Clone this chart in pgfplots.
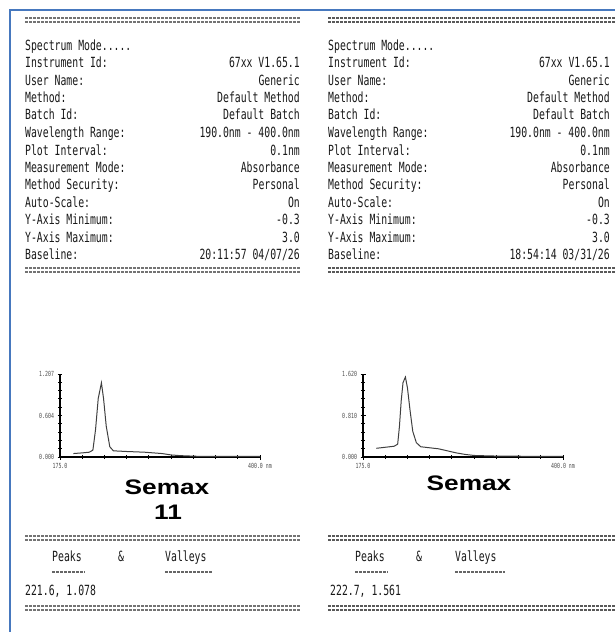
\documentclass[border=0pt]{standalone}
\usepackage{pgfplots}
\pgfplotsset{compat=1.18}
\usepackage{fontspec}
\setmainfont{Liberation Sans}
\newfontfamily\pf[FakeStretch=0.7]{DejaVu Sans Mono}
\newfontfamily\semaxfont{Liberation Sans}
\definecolor{frameblue}{RGB}{70,120,190}
\newcommand{\pfs}{\pf\fontsize{14}{14}\selectfont}
\newcommand{\row}[4]{%
  \node[anchor=base west,font=\pfs,text=black!90,inner sep=0] at (25,{-(#1)}) {#2};
  \node[anchor=base east,font=\pfs,text=black!90,inner sep=0] at (300,{-(#1)}) {#3};
  \node[anchor=base west,font=\pfs,text=black!90,inner sep=0] at (328,{-(#1)}) {#2};
  \node[anchor=base east,font=\pfs,text=black!90,inner sep=0] at (610,{-(#1)}) {#4};}
\newcommand{\sep}[1]{%
  \draw[black!55,line width=1.2pt,dash pattern=on 3pt off 1pt] (25,{-(#1)}) -- (300,{-(#1)});
  \draw[black!55,line width=1.2pt,dash pattern=on 3pt off 1pt] (25,{-(#1+4)}) -- (300,{-(#1+4)});
  \draw[black!65,line width=1.2pt,dash pattern=on 3pt off 1pt] (328,{-(#1)}) -- (615,{-(#1)});
  \draw[black!65,line width=1.2pt,dash pattern=on 3pt off 1pt] (328,{-(#1+4)}) -- (615,{-(#1+4)});}
\pgfplotsset{spec/.style={
  anchor=south west, scale only axis, width=200pt, height=83pt,
  xmin=175, xmax=400, ymin=0,
  axis x line=bottom, axis y line=left,
  axis line style={-, line width=1.3pt},
  xtick={175,400}, xticklabels={175.0,400.0 nm},
  minor xtick={200,225,...,375},
  minor y tick num=4,
  tick align=center,
  tick style={black, line width=0.9pt},
  major tick length=5pt, minor tick length=3.5pt,
  tick label style={font=\pf\fontsize{7}{7}\selectfont, text=black!70},
  clip=false}}
\begin{document}
\begin{tikzpicture}[x=1pt,y=1pt]
\useasboundingbox (0,0) rectangle (615,-632);
\fill[white] (0,0) rectangle (615,-632);
\draw[frameblue,line width=2pt] (10,-632) -- (10,-10) -- (615,-10);
\sep{18}
\sep{268}
\sep{536}
\sep{606}
\row{50}{Spectrum Mode.....}{}{}
\row{67}{Instrument Id:}{67xx V1.65.1}{67xx V1.65.1}
\row{85}{User Name:}{Generic}{Generic}
\row{102}{Method:}{Default Method}{Default Method}
\row{119}{Batch Id:}{Default Batch}{Default Batch}
\row{137}{Wavelength Range:}{190.0nm - 400.0nm}{190.0nm - 400.0nm}
\row{155}{Plot Interval:}{0.1nm}{0.1nm}
\row{172}{Measurement Mode:}{Absorbance}{Absorbance}
\row{189}{Method Security:}{Personal}{Personal}
\row{207}{Auto-Scale:}{On}{On}
\row{224}{Y-Axis Minimum:}{-0.3}{-0.3}
\row{242}{Y-Axis Maximum:}{3.0}{3.0}
\row{259}{Baseline:}{20:11:57 04/07/26}{18:54:14 03/31/26}

\begin{axis}[spec, at={(60pt,-457pt)}, ymax=1.207,
  ytick={0,0.6035,1.207}, yticklabels={0.000,0.604,1.207}]
\addplot[black!75, line width=1pt] coordinates {
(190,0.05) (200,0.06) (208,0.07) (212,0.10) (215,0.40) (218,0.85)
(221.6,1.078) (224,0.85) (227,0.45) (231,0.15) (235,0.09) (250,0.08)
(270,0.07) (290,0.05) (300,0.03) (310,0.02) (330,0.01) (400,0.01)};
\end{axis}

\begin{axis}[spec, at={(363pt,-457pt)}, ymax=1.62,
  ytick={0,0.81,1.62}, yticklabels={0.000,0.810,1.620}]
\addplot[black!75, line width=1pt] coordinates {
(190,0.17) (200,0.19) (210,0.21) (214,0.25) (216,0.60) (218,1.10)
(220,1.45) (222.7,1.561) (225,1.35) (228,0.90) (231,0.50) (235,0.28)
(240,0.20) (250,0.18) (260,0.16) (270,0.12) (280,0.08) (290,0.05)
(300,0.03) (320,0.02) (350,0.015) (400,0.01)};
\end{axis}

\node[font=\semaxfont\bfseries\fontsize{21}{21}\selectfont,inner sep=0,xscale=1.25] at (167,-487) {Semax};
\node[font=\semaxfont\bfseries\fontsize{21}{21}\selectfont,inner sep=0,xscale=1.25] at (168,-512) {11};
\node[font=\semaxfont\bfseries\fontsize{21}{21}\selectfont,inner sep=0,xscale=1.25] at (469,-483) {Semax};

\node[anchor=base west,font=\pfs,text=black!90,inner sep=0] at (52,-561) {Peaks};
\node[anchor=base west,font=\pfs,text=black!90,inner sep=0] at (118,-561) {\&};
\node[anchor=base west,font=\pfs,text=black!90,inner sep=0] at (165,-561) {Valleys};
\draw[black!60,line width=1.2pt,dash pattern=on 3pt off 1pt] (52,-572) -- (85,-572);
\draw[black!60,line width=1.2pt,dash pattern=on 3pt off 1pt] (165,-572) -- (213,-572);
\node[anchor=base west,font=\pfs,text=black!90,inner sep=0] at (25,-595) {221.6, 1.078};

\node[anchor=base west,font=\pfs,text=black!90,inner sep=0] at (355,-561) {Peaks};
\node[anchor=base west,font=\pfs,text=black!90,inner sep=0] at (416,-561) {\&};
\node[anchor=base west,font=\pfs,text=black!90,inner sep=0] at (455,-561) {Valleys};
\draw[black!60,line width=1.2pt,dash pattern=on 3pt off 1pt] (355,-572) -- (388,-572);
\draw[black!60,line width=1.2pt,dash pattern=on 3pt off 1pt] (455,-572) -- (505,-572);
\node[anchor=base west,font=\pfs,text=black!90,inner sep=0] at (330,-595) {222.7, 1.561};
\end{tikzpicture}
\end{document}
